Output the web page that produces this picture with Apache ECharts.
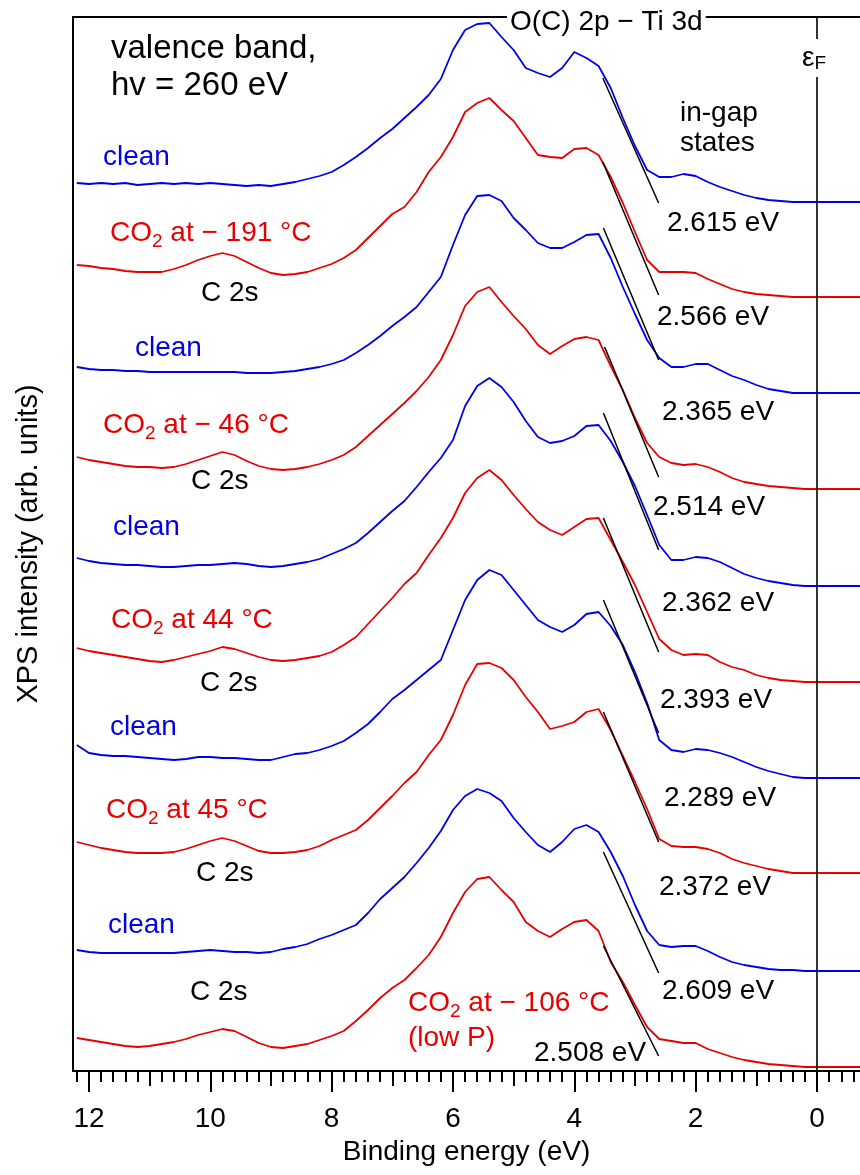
<!DOCTYPE html>
<html><head><meta charset="utf-8">
<script src="https://cdn.jsdelivr.net/npm/echarts@6/dist/echarts.min.js"></script>
<style>html,body{margin:0;padding:0;background:#fff}#c{width:860px;height:1175px}</style>
</head><body><div id="c"></div>
<script>
// Binding energy grid (eV)
const energy = [12.2,12.0,11.8,11.6,11.4,11.2,11.0,10.8,10.6,10.4,10.2,10.0,9.8,9.6,9.4,9.2,9.0,8.8,8.6,8.4,8.2,8.0,7.8,7.6,7.4,7.2,7.0,6.8,6.6,6.4,6.2,6.0,5.8,5.6,5.4,5.2,5.0,4.8,4.6,4.4,4.2,4.0,3.8,3.6,3.4,3.2,3.0,2.8,2.6,2.4,2.2,2.0,1.8,1.6,1.4,1.2,1.0,0.8,0.6,0.4,0.2,0.0,-0.2,-0.4,-0.6,-0.8];

// Intensities (arb. units) above each spectrum's own baseline, top to bottom
const clean1 = [19,18,19,18,19,17,18,19,18,19, 18,19,18,17,16,17,16,18,20,23, 26,30,37,45,54,64,73,84,95,107, 123,152,172,178,179,165,152,134,129,125, 134,150,144,136,114,84,56,32,25,25, 28,26,20,15,11,7,4,2,1,0, 0,0,0,0,0,0];
const co2m191 = [32,31,29,28,26,25,25,25,28,32, 37,41,44,41,35,29,24,22,23,25, 29,33,39,47,59,71,83,90,105,125, 140,160,185,194,199,187,176,159,142,140, 139,148,149,142,120,94,65,37,25,25, 25,24,18,13,8,5,3,2,1,0, 0,0,0,0,0,0];
const clean2 = [26,24,23,23,22,22,21,21,21,21, 21,21,21,21,20,20,20,21,22,24, 26,29,33,40,48,57,67,76,86,101, 116,148,178,197,198,192,175,163,150,145, 145,151,158,159,135,106,79,53,35,26, 26,29,29,23,17,13,8,4,2,0, 0,0,0,0,0,0];
const co2m46 = [32,29,27,25,23,22,22,21,22,25, 29,33,37,34,28,23,20,19,20,22, 25,29,34,42,53,64,75,86,98,112, 129,154,183,197,202,187,173,160,144,135, 143,150,152,149,123,99,71,46,32,26, 24,25,22,17,11,7,5,3,2,1, 0,0,0,0,0,0];
const clean3 = [28,25,23,22,21,21,20,19,19,20, 21,21,22,23,22,20,19,20,22,24, 27,32,37,43,53,64,75,85,99,114, 128,146,180,200,208,199,184,165,149,143, 145,150,160,161,145,124,100,71,41,26, 26,29,28,24,18,12,8,5,3,1, 0,0,0,0,0,0];
const co2p44 = [34,31,29,27,25,23,21,20,22,25, 28,31,35,33,29,25,22,21,22,24, 26,30,37,45,58,71,84,98,109,127, 144,164,189,204,212,202,187,173,160,152, 147,155,163,164,142,120,97,70,43,32, 27,28,27,20,15,12,7,4,2,1, 0,0,0,0,0,0];
const clean4 = [33,25,23,22,22,21,20,19,18,19, 21,21,20,20,19,18,18,21,24,25, 28,32,37,45,54,66,79,88,98,108, 118,148,178,198,208,203,188,173,158,151, 146,153,164,166,152,133,106,75,38,28, 26,29,28,25,21,16,11,7,4,1, 0,0,0,0,0,0];
const co2p45 = [31,28,25,23,21,20,20,20,21,24, 28,32,35,32,27,22,20,20,21,23, 27,33,38,43,53,65,77,90,101,118, 133,158,188,209,210,205,193,176,161,144, 147,151,161,164,143,117,91,64,34,27, 26,26,24,20,14,10,7,4,2,0, 0,0,0,0,0,0];
const clean5 = [21,19,18,18,18,18,18,18,18,19, 20,21,20,19,19,18,19,22,24,27, 32,36,41,46,58,72,83,94,108,123, 140,161,175,182,178,170,153,139,126,119, 129,142,146,139,119,95,66,40,26,24, 25,25,20,14,9,6,4,2,1,1, 0,0,0,0,0,0];
const co2m106 = [29,27,25,23,21,20,21,23,25,28, 32,35,38,36,30,24,20,19,21,23, 27,31,36,46,57,69,79,87,99,112, 130,154,175,188,190,177,165,145,136,130, 138,145,147,136,105,85,62,40,28,26, 24,24,18,14,10,7,5,3,2,1, 0,0,0,0,0,0];

// vertical stacking offsets of the spectra (arb. units)
const offsets = [869, 774, 678, 582, 485, 389, 293, 198, 100, 4];
const kinds = ['clean','co2','clean','co2','clean','co2','clean','co2','clean','co2'];
const co2Temps = ['− 191 °C', '− 46 °C', '44 °C', '45 °C', '− 106 °C'];

// leading-edge linear fits: start/end energy (eV) and intensity above baseline
const fitStartE = [3.53,3.53,3.52,3.50,3.52,3.52,3.52,3.52,3.52,3.52];
const fitEndE   = [2.61,2.61,2.61,2.61,2.61,2.61,2.61,2.61,2.61,2.61];
const fitStartI = [124,135,165,142,173,164,178,161,119,121];
const fitEndI   = [-1,2,33,12,36,30,45,31,-2,11];
const onsetLabels = ['2.615 eV','2.566 eV','2.365 eV','2.514 eV','2.362 eV','2.393 eV','2.289 eV','2.372 eV','2.609 eV','2.508 eV'];

// axis ticks
const majorTicks = [0,2,4,6,8,10,12];
const midTicks = [1,3,5,7,9,11];

const curves = [clean1, co2m191, clean2, co2m46, clean3, co2p44, clean4, co2p45, clean5, co2m106];

// ---------- layout / style ----------
const FONT = '"Liberation Sans", Arial, Helvetica, sans-serif';
const BLUE = '#0000e6', RED = '#e60000';
const minorTicks = [];
for (let k = -3; k <= 61; k++) minorTicks.push(Math.round(k * 2) / 10);

const chart = echarts.init(document.getElementById('c'), null, {renderer: 'canvas'});

const series = [];
curves.forEach((c, i) => {
  series.push({
    type: 'line', xAxisIndex: 0, yAxisIndex: 0, z: 2,
    data: energy.map((e, j) => [e, offsets[i] + c[j]]),
    showSymbol: false, symbol: 'none', smooth: false, clip: true,
    lineStyle: {color: kinds[i] === 'clean' ? BLUE : RED, width: 1.8},
    markLine: i === 0 ? {
      silent: true, symbol: ['none','none'], animation: false,
      label: {show: false},
      lineStyle: {color: '#000', width: 1.6, type: 'solid'},
      data: [{xAxis: 0}]
    } : undefined
  });
});
curves.forEach((c, i) => {
  series.push({
    type: 'line', xAxisIndex: 0, yAxisIndex: 0, z: 3,
    data: [[fitStartE[i], offsets[i] + fitStartI[i]], [fitEndE[i], offsets[i] + fitEndI[i]]],
    showSymbol: false, symbol: 'none',
    lineStyle: {color: '#000', width: 1.5}
  });
});

function T(x, y, text, color, size, extra) {
  return {type: 'text', x: x, y: y, z: 100, silent: true,
    style: Object.assign({text: text, fill: color, font: size + 'px ' + FONT,
      align: 'left', verticalAlign: 'middle', textAlign: 'left', textVerticalAlign: 'middle'}, extra || {})};
}
function CO2(x, y, temp) {
  return {type: 'text', x: x, y: y, z: 100, silent: true,
    style: {text: '{a|CO}{s|2}{a| at ' + temp + '}', align: 'left', verticalAlign: 'middle',
      textAlign: 'left', textVerticalAlign: 'middle',
      rich: {
        a: {fontSize: 28, fontFamily: FONT, fill: RED, color: RED, lineHeight: 36},
        s: {fontSize: 19, fontFamily: FONT, fill: RED, color: RED, lineHeight: 20, verticalAlign: 'bottom'}
      }}};
}

const cleanPos = [[103,157],[135,348],[113,527],[110,727],[108,925]];
const co2Pos = [[110,233],[103,425],[111,620],[106,810],[408,1003]];
const c2sPos = [[201,293],[191,481],[200,683],[196,873],[190,992]];
const onsetPos = [[667,223],[657,317],[662,412],[653,507],[662,603],[660,700],[664,798],[659,887],[662,991],[534,1053]];

const graphics = [];
cleanPos.forEach(p => graphics.push(T(p[0], p[1], 'clean', BLUE, 28)));
co2Pos.forEach((p, k) => graphics.push(CO2(p[0], p[1], co2Temps[k])));
graphics.push(T(408, 1038, '(low P)', RED, 28));
c2sPos.forEach(p => graphics.push(T(p[0], p[1], 'C 2s', '#000', 28)));
onsetPos.forEach((p, k) => graphics.push(T(p[0], p[1], onsetLabels[k], '#000', 28)));
graphics.push(T(111, 49, 'valence band,', '#000', 33));
graphics.push(T(111, 86, 'hv = 260 eV', '#000', 33));
graphics.push(T(680, 113, 'in-gap', '#000', 28));
graphics.push(T(680, 143, 'states', '#000', 28));
graphics.push(T(507, 22, 'O(C) 2p − Ti 3d', '#000', 28, {backgroundColor: '#fff', padding: [2, 3, 2, 3]}));
graphics.push({type: 'text', x: 800, y: 58, z: 100, silent: true,
  style: {text: '{e|ε}{f|F}', align: 'left', verticalAlign: 'middle', textAlign: 'left', textVerticalAlign: 'middle',
    backgroundColor: '#fff', padding: [4, 3, 4, 2],
    rich: {
      e: {fontSize: 28, fontFamily: FONT, fill: '#000', color: '#000', lineHeight: 30},
      f: {fontSize: 19, fontFamily: FONT, fill: '#000', color: '#000', lineHeight: 18, verticalAlign: 'bottom'}
    }}});

const xBase = {type: 'value', inverse: true, min: -0.709, max: 12.263, splitLine: {show: false}};
chart.setOption({
  animation: false,
  backgroundColor: '#fff',
  grid: {left: 73, right: 0, top: 17, bottom: 104, containLabel: false},
  xAxis: [
    Object.assign({}, xBase, {
      position: 'bottom',
      axisLine: {show: true, onZero: false, lineStyle: {color: '#000', width: 2}},
      axisTick: {show: true, inside: false, length: 21, customValues: majorTicks, lineStyle: {color: '#000', width: 2}},
      axisLabel: {show: true, customValues: majorTicks, margin: 34, color: '#000', fontSize: 28, fontFamily: FONT},
      name: 'Binding energy (eV)', nameLocation: 'middle', nameGap: 64,
      nameTextStyle: {color: '#000', fontSize: 28, fontFamily: FONT}
    }),
    Object.assign({}, xBase, {
      position: 'bottom',
      axisLine: {show: false, onZero: false},
      axisTick: {show: true, inside: false, length: 11, customValues: minorTicks, lineStyle: {color: '#000', width: 2}},
      axisLabel: {show: false}
    }),
    Object.assign({}, xBase, {
      position: 'bottom',
      axisLine: {show: false, onZero: false},
      axisTick: {show: true, inside: false, length: 15, customValues: midTicks, lineStyle: {color: '#000', width: 2}},
      axisLabel: {show: false}
    }),
    Object.assign({}, xBase, {
      position: 'top',
      axisLine: {show: true, onZero: false, lineStyle: {color: '#000', width: 2}},
      axisTick: {show: false}, axisLabel: {show: false}
    })
  ],
  yAxis: [{
    type: 'value', min: 0, max: 1054, position: 'left',
    axisLine: {show: true, onZero: false, lineStyle: {color: '#000', width: 2}},
    axisTick: {show: false}, axisLabel: {show: false}, splitLine: {show: false},
    name: 'XPS intensity (arb. units)', nameLocation: 'middle', nameGap: 30,
    nameTextStyle: {color: '#000', fontSize: 29, fontFamily: FONT}
  }],
  series: series,
  graphic: {elements: graphics}
});
</script>
</body></html>
